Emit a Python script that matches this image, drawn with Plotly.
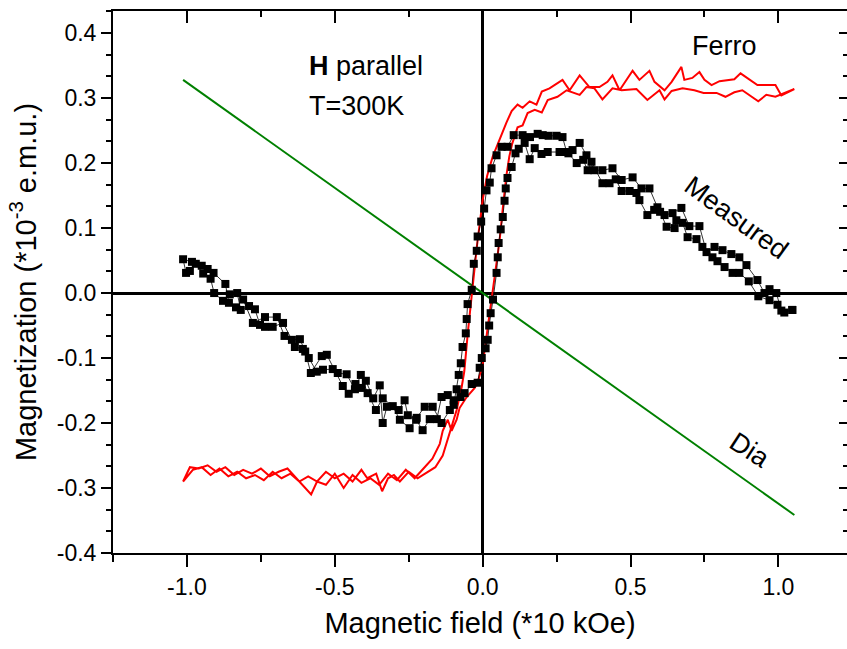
import plotly.graph_objects as go

# Magnetization loop at 300 K, field parallel to the sample plane.
# Field in units of 10 kOe, magnetization in 1e-3 e.m.u.

# Measured loop: field sweep down from +H_max, then back up
MEASURED_DOWN = [
    (1.047, -0.026), (1.01, -0.027), (0.993, 0.0), (0.97, 0.006), (0.953, 0.0),
    (0.929, 0.02), (0.892, 0.043), (0.868, 0.055), (0.841, 0.06), (0.811, 0.066),
    (0.784, 0.071), (0.757, 0.063), (0.733, 0.103), (0.699, 0.103), (0.672, 0.131),
    (0.642, 0.123), (0.615, 0.12), (0.591, 0.132), (0.564, 0.161), (0.537, 0.161),
    (0.507, 0.178), (0.47, 0.174), (0.439, 0.192), (0.405, 0.189), (0.378, 0.189),
    (0.351, 0.212), (0.328, 0.231), (0.304, 0.22), (0.284, 0.217), (0.27, 0.24),
    (0.25, 0.242), (0.223, 0.242), (0.203, 0.243), (0.186, 0.245), (0.16, 0.24),
    (0.135, 0.243), (0.105, 0.243), (0.084, 0.225), (0.064, 0.225), (0.047, 0.212),
    (0.03, 0.192), (0.024, 0.17), (0.013, 0.158), (0.005, 0.13), (-0.005, 0.11),
    (-0.017, 0.087), (-0.02, 0.065), (-0.03, 0.045), (-0.037, 0.005), (-0.051, -0.017),
    (-0.054, -0.04), (-0.057, -0.062), (-0.068, -0.083), (-0.074, -0.108), (-0.081, -0.126),
    (-0.088, -0.148), (-0.098, -0.172), (-0.111, -0.18), (-0.139, -0.2), (-0.169, -0.175),
    (-0.196, -0.175), (-0.223, -0.192), (-0.247, -0.208), (-0.28, -0.195), (-0.304, -0.174),
    (-0.338, -0.162), (-0.361, -0.18), (-0.389, -0.154), (-0.412, -0.126), (-0.432, -0.148),
    (-0.46, -0.125), (-0.49, -0.123), (-0.507, -0.117), (-0.54, -0.118), (-0.561, -0.121),
    (-0.588, -0.1), (-0.608, -0.086), (-0.635, -0.083), (-0.67, -0.066), (-0.696, -0.037),
    (-0.736, -0.037), (-0.777, -0.046), (-0.81, -0.01), (-0.834, -0.022), (-0.858, -0.015),
    (-0.87, 0.014), (-0.91, 0.031), (-0.93, 0.037), (-0.95, 0.042), (-0.983, 0.048),
    (-1.013, 0.052),
]
MEASURED_UP = [
    (-1.003, 0.031), (-0.99, 0.034), (-0.97, 0.045), (-0.945, 0.03), (-0.92, 0.022),
    (-0.908, 0.0), (-0.878, -0.012), (-0.855, -0.002), (-0.83, 0.0), (-0.818, -0.026),
    (-0.79, -0.02), (-0.77, -0.025), (-0.753, -0.049), (-0.736, -0.052), (-0.71, -0.052),
    (-0.675, -0.046), (-0.645, -0.072), (-0.618, -0.071), (-0.6, -0.09), (-0.581, -0.123),
    (-0.544, -0.097), (-0.527, -0.095), (-0.473, -0.143), (-0.453, -0.155), (-0.43, -0.14),
    (-0.409, -0.146), (-0.395, -0.135), (-0.37, -0.162), (-0.348, -0.142), (-0.338, -0.2),
    (-0.324, -0.175), (-0.284, -0.18), (-0.264, -0.165), (-0.253, -0.188), (-0.225, -0.195),
    (-0.203, -0.211), (-0.179, -0.194), (-0.155, -0.194), (-0.139, -0.16), (-0.118, -0.157),
    (-0.098, -0.165), (-0.075, -0.16), (-0.061, -0.154), (-0.037, -0.14), (-0.017, -0.138),
    (-0.01, -0.115), (-0.003, -0.1), (0.01, -0.085), (0.017, -0.072), (0.022, -0.05),
    (0.027, -0.031), (0.035, -0.01), (0.047, 0.031), (0.051, 0.055), (0.054, 0.077),
    (0.061, 0.098), (0.068, 0.117), (0.074, 0.142), (0.078, 0.161), (0.084, 0.177),
    (0.098, 0.194), (0.111, 0.215), (0.122, 0.222), (0.142, 0.231), (0.159, 0.206),
    (0.176, 0.223), (0.199, 0.214), (0.22, 0.217), (0.26, 0.217), (0.29, 0.215),
    (0.318, 0.2), (0.34, 0.205), (0.355, 0.189), (0.368, 0.202), (0.405, 0.169),
    (0.429, 0.169), (0.45, 0.175), (0.47, 0.157), (0.497, 0.157), (0.52, 0.154),
    (0.53, 0.143), (0.557, 0.12), (0.58, 0.128), (0.6, 0.125), (0.622, 0.102),
    (0.649, 0.1), (0.655, 0.112), (0.676, 0.108), (0.693, 0.086), (0.723, 0.083),
    (0.743, 0.071), (0.777, 0.055), (0.794, 0.049), (0.818, 0.04), (0.845, 0.031),
    (0.868, 0.031), (0.9, 0.018), (0.932, -0.005), (0.97, -0.011), (0.997, -0.018),
    (1.02, -0.03), (1.047, -0.026),
]

# Ferromagnetic contribution (diamagnetic background removed)
FERRO_DOWN = [
    (1.054, 0.314), (1.01, 0.304), (0.99, 0.32), (0.929, 0.32), (0.872, 0.338),
    (0.851, 0.329), (0.801, 0.326), (0.774, 0.32), (0.75, 0.328), (0.733, 0.34),
    (0.709, 0.331), (0.682, 0.328), (0.672, 0.348), (0.639, 0.325), (0.615, 0.312),
    (0.581, 0.325), (0.564, 0.342), (0.53, 0.328), (0.507, 0.342), (0.463, 0.312),
    (0.439, 0.335), (0.422, 0.325), (0.395, 0.317), (0.361, 0.317), (0.328, 0.335),
    (0.294, 0.312), (0.27, 0.328), (0.226, 0.315), (0.2, 0.31), (0.182, 0.29),
    (0.159, 0.295), (0.135, 0.285), (0.118, 0.29), (0.098, 0.28), (0.08, 0.262),
    (0.064, 0.243), (0.034, 0.21), (0.015, 0.18), (0.0, 0.143), (-0.02, 0.07),
    (-0.037, 0.0), (-0.05, -0.06), (-0.062, -0.12), (-0.071, -0.145), (-0.088, -0.18),
    (-0.111, -0.215), (-0.135, -0.25), (-0.16, -0.268), (-0.19, -0.276), (-0.22, -0.285),
    (-0.25, -0.275), (-0.28, -0.29), (-0.3, -0.28), (-0.32, -0.285), (-0.34, -0.305),
    (-0.36, -0.278), (-0.39, -0.285), (-0.41, -0.272), (-0.44, -0.29), (-0.47, -0.278),
    (-0.5, -0.285), (-0.53, -0.275), (-0.56, -0.29), (-0.59, -0.282), (-0.62, -0.29),
    (-0.65, -0.278), (-0.68, -0.285), (-0.71, -0.275), (-0.74, -0.288), (-0.77, -0.28),
    (-0.8, -0.285), (-0.83, -0.275), (-0.86, -0.282), (-0.89, -0.27), (-0.92, -0.28),
    (-0.95, -0.268), (-0.98, -0.272), (-1.013, -0.29),
]
FERRO_UP = [
    (-0.99, -0.268), (-0.96, -0.27), (-0.93, -0.265), (-0.9, -0.275), (-0.87, -0.268),
    (-0.84, -0.28), (-0.81, -0.272), (-0.78, -0.278), (-0.75, -0.27), (-0.72, -0.282),
    (-0.69, -0.275), (-0.66, -0.27), (-0.63, -0.285), (-0.6, -0.3), (-0.58, -0.31),
    (-0.56, -0.29), (-0.53, -0.295), (-0.5, -0.278), (-0.47, -0.3), (-0.44, -0.28),
    (-0.41, -0.292), (-0.38, -0.285), (-0.35, -0.295), (-0.32, -0.278), (-0.29, -0.288),
    (-0.26, -0.272), (-0.23, -0.285), (-0.2, -0.27), (-0.17, -0.255), (-0.145, -0.232),
    (-0.135, -0.212), (-0.118, -0.195), (-0.105, -0.212), (-0.088, -0.195), (-0.078, -0.177),
    (-0.054, -0.16), (-0.027, -0.146), (-0.017, -0.138), (0.0, -0.11), (0.015, -0.06),
    (0.03, -0.01), (0.045, 0.04), (0.057, 0.08), (0.068, 0.13), (0.08, 0.18),
    (0.09, 0.21), (0.1, 0.23), (0.118, 0.255), (0.135, 0.258), (0.152, 0.277),
    (0.176, 0.282), (0.2, 0.278), (0.22, 0.297), (0.253, 0.302), (0.284, 0.312),
    (0.328, 0.305), (0.351, 0.317), (0.378, 0.315), (0.405, 0.298), (0.439, 0.315),
    (0.47, 0.312), (0.52, 0.314), (0.557, 0.297), (0.598, 0.312), (0.615, 0.298),
    (0.639, 0.311), (0.676, 0.315), (0.716, 0.312), (0.747, 0.308), (0.791, 0.308),
    (0.821, 0.302), (0.851, 0.309), (0.878, 0.312), (0.932, 0.295), (0.959, 0.305),
    (0.99, 0.302), (1.054, 0.314),
]

# Diamagnetic background (linear)
DIA_X = [-1.013, 1.054]
DIA_Y = [0.328, -0.3415]

X_TICKS = [-1.0, -0.5, 0.0, 0.5, 1.0]
X_TICK_TEXT = ["-1.0", "-0.5", "0.0", "0.5", "1.0"]
Y_TICKS = [-0.4, -0.3, -0.2, -0.1, 0.0, 0.1, 0.2, 0.3, 0.4]
Y_TICK_TEXT = ["-0.4", "-0.3", "-0.2", "-0.1", "0.0", "0.1", "0.2", "0.3", "0.4"]

X_RANGE = [-1.25, 1.232]
Y_RANGE = [-0.4, 0.434]

FONT = "Liberation Sans, Arial, Helvetica, sans-serif"

meas = MEASURED_DOWN + MEASURED_UP
ferro = FERRO_DOWN + FERRO_UP

fig = go.Figure()

fig.add_trace(go.Scatter(
    x=DIA_X, y=DIA_Y, mode="lines",
    line=dict(color="#008000", width=2), showlegend=False,
))
fig.add_trace(go.Scatter(
    x=[p[0] for p in ferro], y=[p[1] for p in ferro], mode="lines",
    line=dict(color="#ff0000", width=2), showlegend=False,
))
fig.add_trace(go.Scatter(
    x=[p[0] for p in meas], y=[p[1] for p in meas], mode="lines+markers",
    line=dict(color="black", width=0.8),
    marker=dict(symbol="square", size=8, color="black", line=dict(width=0)),
    showlegend=False,
))
# carrier for the mirrored top/right axes
fig.add_trace(go.Scatter(x=[None], y=[None], xaxis="x2", yaxis="y2",
                         showlegend=False, hoverinfo="skip"))

tickfont = dict(family=FONT, size=23, color="black")
titlefont = dict(family=FONT, size=29, color="black")

fig.update_layout(
    width=847, height=649,
    margin=dict(l=113, r=0, t=11, b=96),
    paper_bgcolor="white", plot_bgcolor="white",
    xaxis=dict(
        range=X_RANGE, tickmode="array", tickvals=X_TICKS, ticktext=X_TICK_TEXT,
        ticks="outside", ticklen=12, tickwidth=2, tickcolor="black",
        minor=dict(dtick=0.25, tick0=0, ticks="outside", ticklen=7,
                   tickwidth=2, tickcolor="black", showgrid=False),
        showline=True, linecolor="black", linewidth=2,
        showgrid=False, zeroline=True, zerolinecolor="black", zerolinewidth=2.5,
        tickfont=tickfont,
        title=dict(text="Magnetic field (*10 kOe)", font=titlefont, standoff=14),
    ),
    yaxis=dict(
        range=Y_RANGE, tickmode="array", tickvals=Y_TICKS, ticktext=Y_TICK_TEXT,
        ticks="outside", ticklen=10, tickwidth=2, tickcolor="black",
        minor=dict(dtick=0.1 / 3, tick0=0, ticks="outside", ticklen=5,
                   tickwidth=2, tickcolor="black", showgrid=False),
        showline=True, linecolor="black", linewidth=2,
        showgrid=False, zeroline=True, zerolinecolor="black", zerolinewidth=2.5,
        tickfont=tickfont,
        title=dict(text="Magnetization (*10<sup>-3</sup> e.m.u.)", font=titlefont, standoff=12),
    ),
    xaxis2=dict(
        range=X_RANGE, overlaying="x", side="top", anchor="y2",
        tickmode="array", tickvals=X_TICKS, showticklabels=False,
        ticks="inside", ticklen=12, tickwidth=2, tickcolor="black",
        minor=dict(dtick=0.25, tick0=0, ticks="inside", ticklen=6,
                   tickwidth=2, tickcolor="black", showgrid=False),
        showline=True, linecolor="black", linewidth=2,
        showgrid=False, zeroline=False,
    ),
    yaxis2=dict(
        range=Y_RANGE, overlaying="y", side="right", anchor="x2",
        tickmode="array", tickvals=Y_TICKS, showticklabels=False,
        ticks="inside", ticklen=8, tickwidth=2, tickcolor="black",
        minor=dict(dtick=0.1 / 3, tick0=0, ticks="inside", ticklen=4,
                   tickwidth=2, tickcolor="black", showgrid=False),
        showline=True, linecolor="black", linewidth=2,
        showgrid=False, zeroline=False,
    ),
)

annfont = dict(family=FONT, size=27, color="black")
fig.add_annotation(x=-0.595, y=0.349, xref="x", yref="y", text="<b>H</b> parallel",
                   showarrow=False, xanchor="left", yanchor="middle", font=annfont)
fig.add_annotation(x=-0.595, y=0.288, xref="x", yref="y", text="T=300K",
                   showarrow=False, xanchor="left", yanchor="middle", font=annfont)
fig.add_annotation(x=0.818, y=0.38, xref="x", yref="y", text="Ferro",
                   showarrow=False, xanchor="center", yanchor="middle", font=annfont)
fig.add_annotation(x=0.858, y=0.115, xref="x", yref="y", text="Measured",
                   showarrow=False, textangle=36, font=annfont)
fig.add_annotation(x=0.902, y=-0.242, xref="x", yref="y", text="Dia",
                   showarrow=False, textangle=33, font=annfont)

fig.write_html("out.html")
